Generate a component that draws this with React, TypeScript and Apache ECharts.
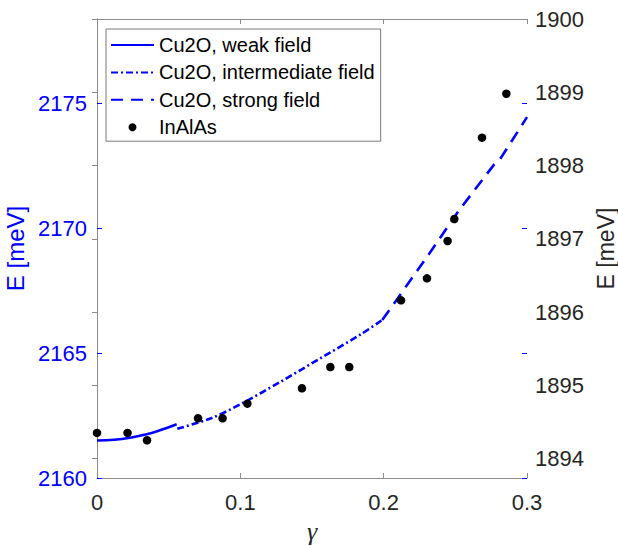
import React, { useEffect, useRef } from "react";
import * as echarts from "echarts";

// Cu2O, weak field (left axis, meV)
const weakGamma = [0, 0.012, 0.023, 0.033, 0.042, 0.0556];
const weakE = [2161.5, 2161.53, 2161.61, 2161.73, 2161.87, 2162.15];
// Cu2O, intermediate field
const interGamma = [0.056, 0.08, 0.1, 0.128, 0.156, 0.184, 0.199];
const interE = [2161.97, 2162.4, 2162.95, 2163.85, 2164.8, 2165.75, 2166.33];
// Cu2O, strong field
const strongGamma = [0.199, 0.209, 0.232, 0.253, 0.277, 0.281, 0.3];
const strongE = [2166.33, 2167.13, 2169.0, 2170.75, 2172.55, 2172.75, 2174.45];
// InAlAs (right axis, meV)
const dotGamma = [0, 0.0213, 0.0349, 0.0705, 0.0876, 0.1049, 0.143, 0.1628, 0.176, 0.2121, 0.2302, 0.2446, 0.2493, 0.2686, 0.2856];
const dotE = [1894.35, 1894.35, 1894.25, 1894.55, 1894.55, 1894.75, 1894.96, 1895.25, 1895.25, 1896.16, 1896.46, 1896.97, 1897.27, 1898.38, 1898.98];

const xTicks = [0, 0.1, 0.2, 0.3];
const leftTicks = [2160, 2165, 2170, 2175];
const rightTicks = [1894, 1895, 1896, 1897, 1898, 1899, 1900];

const seriesNames = ["Cu2O, weak field", "Cu2O, intermediate field", "Cu2O, strong field", "InAlAs"];

const pairs = (xs: number[], ys: number[]) => xs.map((x, i) => [x, ys[i]]);
const plain = (v: number) => String(v);

const BLUE = "#0000ff";
const GRAY = "#262626";
const AXISGRAY = "#8c8c8c";
const FONT = "Liberation Sans, Arial, sans-serif";

export default function App() {
  const ref = useRef<HTMLDivElement>(null);
  useEffect(() => {
    document.body.style.margin = "0";
    if (!ref.current) return;
    const chart = echarts.init(ref.current, undefined, { renderer: "svg" });
    const xMin = xTicks[0];
    const xMax = xTicks[xTicks.length - 1];
    const lMin = leftTicks[0];
    const lMax = 2178.38;
    const rMin = 1893.735;
    const rMax = rightTicks[rightTicks.length - 1];
    const hiddenSymbol = { opacity: 0, color: "transparent", borderWidth: 0 };
    chart.setOption({
      animation: false,
      backgroundColor: "#ffffff",
      textStyle: { fontFamily: FONT },
      grid: {
        left: 97,
        right: 91,
        top: 19,
        bottom: 68,
        containLabel: false,
        outerBoundsMode: "none",
      },
      legend: {
        show: true,
        orient: "vertical",
        left: 106,
        top: 29,
        data: [
          { name: seriesNames[0], itemStyle: hiddenSymbol },
          { name: seriesNames[1], itemStyle: hiddenSymbol },
          { name: seriesNames[2], itemStyle: hiddenSymbol },
          { name: seriesNames[3] },
        ],
        itemWidth: 43,
        itemHeight: 8,
        itemGap: 7.4,
        padding: [6, 6, 4, 4],
        backgroundColor: "#ffffff",
        borderColor: "#7a7a7a",
        borderWidth: 1,
        borderRadius: 0,
        textStyle: { fontSize: 20, color: "#000000", fontFamily: FONT, lineHeight: 20 },
      },
      xAxis: [
        {
          type: "value",
          position: "bottom",
          min: xMin,
          max: xMax,
          interval: 0.1,
          name: "γ",
          nameLocation: "middle",
          nameGap: 40,
          nameTextStyle: {
            fontSize: 26,
            fontStyle: "italic",
            fontFamily: "Liberation Serif, DejaVu Serif, serif",
            color: GRAY,
            verticalAlign: "top",
          },
          axisLine: { show: true, lineStyle: { color: AXISGRAY, width: 1 } },
          axisTick: { show: true, inside: true, length: 5, lineStyle: { color: AXISGRAY } },
          axisLabel: {
            fontSize: 22,
            color: GRAY,
            margin: 13,
            fontFamily: FONT,
            formatter: plain,
          },
          splitLine: { show: false },
        },
        {
          type: "value",
          position: "top",
          min: xMin,
          max: xMax,
          interval: 0.1,
          axisLine: { show: true, lineStyle: { color: AXISGRAY, width: 1 } },
          axisTick: { show: true, inside: true, length: 5, lineStyle: { color: AXISGRAY } },
          axisLabel: { show: false },
          splitLine: { show: false },
        },
      ],
      yAxis: [
        {
          type: "value",
          position: "left",
          min: lMin,
          max: lMax,
          interval: 5,
          name: "E [meV]",
          nameLocation: "middle",
          nameRotate: 90,
          nameGap: 63,
          nameTextStyle: { fontSize: 24, color: BLUE, fontFamily: FONT },
          axisLine: { show: true, lineStyle: { color: "#5a5aff", width: 1 } },
          axisTick: { show: true, inside: true, length: 5, lineStyle: { color: BLUE }, customValues: leftTicks },
          axisLabel: {
            fontSize: 22,
            color: BLUE,
            margin: 10,
            fontFamily: FONT,
            customValues: leftTicks,
            formatter: plain,
          },
          splitLine: { show: false },
        },
        {
          type: "value",
          position: "right",
          min: rMin,
          max: rMax,
          name: "E [meV]",
          nameLocation: "middle",
          nameRotate: 90,
          nameGap: 65,
          nameTextStyle: { fontSize: 23, color: GRAY, fontFamily: FONT },
          axisLine: { show: true, lineStyle: { color: AXISGRAY, width: 1 } },
          axisTick: { show: true, inside: true, length: 5, lineStyle: { color: AXISGRAY }, customValues: rightTicks },
          axisLabel: {
            fontSize: 22,
            color: GRAY,
            margin: 8,
            fontFamily: FONT,
            customValues: rightTicks,
            formatter: plain,
          },
          splitLine: { show: false },
        },
        {
          type: "value",
          position: "right",
          min: lMin,
          max: lMax,
          interval: 5,
          axisLine: { show: false },
          axisTick: { show: true, inside: true, length: 5, lineStyle: { color: BLUE }, customValues: leftTicks },
          axisLabel: { show: false },
          splitLine: { show: false },
        },
      ],
      series: [
        {
          name: seriesNames[0],
          type: "line",
          xAxisIndex: 0,
          yAxisIndex: 0,
          data: pairs(weakGamma, weakE),
          smooth: 0.4,
          symbol: "none",
          lineStyle: { color: BLUE, width: 2.6, type: "solid" },
          itemStyle: { color: BLUE },
        },
        {
          name: seriesNames[1],
          type: "line",
          xAxisIndex: 0,
          yAxisIndex: 0,
          data: pairs(interGamma, interE),
          smooth: 0.3,
          symbol: "none",
          lineStyle: { color: BLUE, width: 2.6, type: [7, 3, 2, 3] },
          itemStyle: { color: BLUE },
        },
        {
          name: seriesNames[2],
          type: "line",
          xAxisIndex: 0,
          yAxisIndex: 0,
          data: pairs(strongGamma, strongE),
          symbol: "none",
          lineStyle: { color: BLUE, width: 2.6, type: [12, 8] },
          itemStyle: { color: BLUE },
        },
        {
          name: seriesNames[3],
          type: "scatter",
          xAxisIndex: 0,
          yAxisIndex: 1,
          data: pairs(dotGamma, dotE),
          symbol: "circle",
          symbolSize: 8.5,
          itemStyle: { color: "#000000", opacity: 1 },
          z: 5,
        },
      ],
    });
    return () => chart.dispose();
  }, []);
  return <div ref={ref} style={{ width: 618, height: 546 }} />;
}
